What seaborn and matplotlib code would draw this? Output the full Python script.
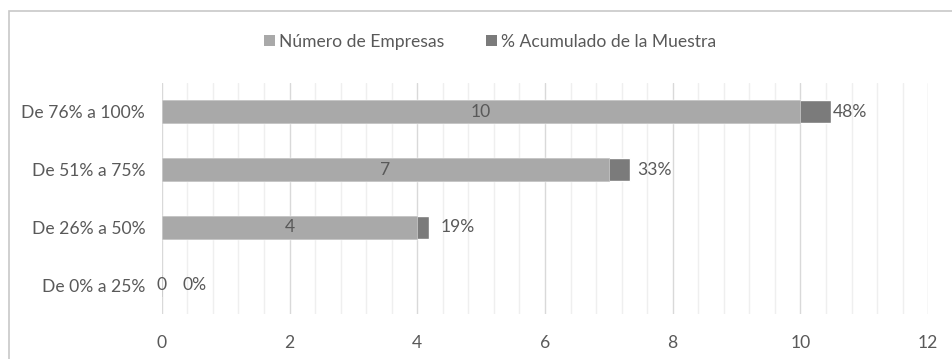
import matplotlib
matplotlib.use("Agg")
import matplotlib.pyplot as plt
from matplotlib.patches import Rectangle, Patch
from matplotlib.ticker import MultipleLocator
import seaborn as sns
import pandas as pd

# Data
categories = ["De 76% a 100%", "De 51% a 75%", "De 26% a 50%", "De 0% a 25%"]
num_empresas = [10, 7, 4, 0]
pct_acumulado = [0.48, 0.33, 0.19, 0.0]
pct_labels = ["48%", "33%", "19%", "0%"]
series_names = ["Número de Empresas", "% Acumulado de la Muestra"]

light = "#A9A9A9"
dark = "#7B7B7B"
text_col = "#595959"
fs = 12.6

sns.set_theme(style="white")
plt.rcParams["font.family"] = ["Lato", "DejaVu Sans"]

df = pd.DataFrame({
    "cat": categories,
    "count": num_empresas,
    "pct": pct_acumulado,
})
df["total"] = df["count"] + df["pct"]

fig = plt.figure(figsize=(9.52, 3.59), dpi=100)
ax = fig.add_axes([0.170, 0.125, 0.805, 0.644])

# Stacked: full bar (dark) underneath, count bar (light) on top
sns.barplot(data=df, x="total", y="cat", order=categories, color=dark,
            width=0.4, saturation=1, ax=ax, orient="h")
sns.barplot(data=df, x="count", y="cat", order=categories, color=light,
            width=0.4, saturation=1, ax=ax, orient="h",
            edgecolor="#C4C4C4", linewidth=0.6)

ax.set_xlim(0, 12)
ax.xaxis.set_major_locator(MultipleLocator(2))
ax.xaxis.set_minor_locator(MultipleLocator(0.4))
ax.grid(axis="x", which="major", color="#D9D9D9", linewidth=1.0)
ax.grid(axis="x", which="minor", color="#EFEFEF", linewidth=1.0)
ax.grid(axis="y", visible=False)
ax.set_axisbelow(True)
for s in ax.spines.values():
    s.set_visible(False)
ax.set_xlabel("")
ax.set_ylabel("")
ax.tick_params(axis="both", which="both", length=0, colors=text_col,
               labelsize=fs)
ax.tick_params(axis="x", pad=15)
ax.tick_params(axis="y", pad=12)

# Value labels: counts centred in their segment, percentages past the bar end
count_bars = ax.containers[1]
total_bars = ax.containers[0]
ax.bar_label(count_bars, labels=[str(v) for v in num_empresas],
             label_type="center", color=text_col, fontsize=fs)
offsets = [1.2, 5, 8, 15]
for bar, lab, off in zip(total_bars, pct_labels, offsets):
    ax.annotate(lab, (bar.get_width(), bar.get_y() + bar.get_height() / 2),
                xytext=(off, 0), textcoords="offset points",
                ha="left", va="center", color=text_col, fontsize=fs)

# Legend
handles = [Patch(facecolor=light, edgecolor="none"),
           Patch(facecolor=dark, edgecolor="none")]
fig.legend(handles, series_names, loc="center", bbox_to_anchor=(0.515, 0.883),
           ncol=2, frameon=False, fontsize=fs, labelcolor=text_col,
           handlelength=0.6, handleheight=0.6, handletextpad=0.25,
           columnspacing=2.4)

# Chart frame
fig.patches.append(Rectangle((9 / 952, -0.1), 1.2, 1 - 11 / 359 + 0.1,
                             transform=fig.transFigure, fill=False,
                             edgecolor="#C8C8C8", linewidth=1.2))

fig.savefig("out.png", dpi=100)
